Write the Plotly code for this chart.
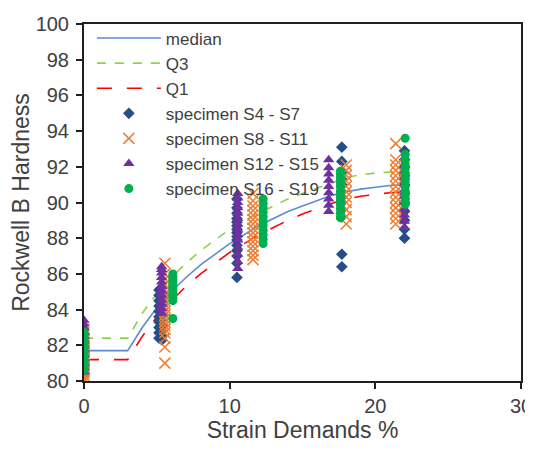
import plotly.graph_objects as go

# ---- quartile / median curves (strain %, HRB) ----
curve_x = [0, 3, 4, 5, 6, 7, 8, 9, 10, 11, 12, 13, 14, 15, 16, 17, 18, 19, 20, 21, 22]
median_y = [81.7, 81.7, 83.0, 84.1, 85.0, 85.8, 86.5, 87.1, 87.7, 88.2, 88.7, 89.1,
            89.5, 89.8, 90.1, 90.4, 90.6, 90.75, 90.85, 90.95, 91.0]
q3_y = [82.4, 82.4, 83.8, 84.9, 85.8, 86.6, 87.3, 87.9, 88.5, 89.0, 89.4, 89.8,
        90.2, 90.5, 90.8, 91.1, 91.4, 91.55, 91.65, 91.7, 91.75]
q1_y = [81.2, 81.2, 82.5, 83.6, 84.5, 85.3, 86.0, 86.6, 87.2, 87.7, 88.2, 88.6,
        89.0, 89.35, 89.65, 89.95, 90.2, 90.35, 90.45, 90.55, 90.6]

# ---- specimen readings: strain level and hardness readings per level ----
s4_strain = [0.0, 5.15, 5.35, 10.5, 17.7, 22.0]
s4_hrb = [
    [80.4, 80.6, 80.8, 81.0, 81.2, 81.4, 81.6, 81.8, 82.0, 82.2, 82.4, 82.6],
    [82.4, 82.7, 83.0, 83.3, 83.6, 83.9, 84.2, 84.5, 84.8, 85.1],
    [82.3, 82.5, 82.8, 83.1, 83.4, 83.7, 84.0, 84.3, 84.6, 84.9, 85.2],
    [85.8, 86.6, 87.0, 87.3, 87.6, 87.9, 88.1, 88.3, 88.5, 88.7, 88.9, 89.1,
     89.4, 89.7, 90.2],
    [86.4, 87.1, 89.2, 89.6, 90.0, 90.3, 90.6, 91.0, 91.3, 91.7, 92.3, 93.1],
    [88.0, 88.5, 89.0, 89.5, 90.0, 90.5, 91.0, 91.5, 92.0, 92.4, 92.9],
]

s8_strain = [0.0, 5.55, 11.6, 18.0, 21.4]
s8_hrb = [
    [80.0, 80.15, 80.3, 80.45, 80.6, 80.75, 80.9, 81.05, 81.2, 81.35, 81.5, 81.65,
     81.8, 81.95, 82.1, 82.25, 82.4, 82.55, 82.7, 82.9],
    [81.0, 81.9, 82.4, 82.7, 82.9, 83.1, 83.3, 83.5, 83.7, 83.9, 84.1, 84.3,
     84.5, 84.7, 84.9, 85.1, 85.4, 85.7, 86.0, 86.6],
    [86.8, 87.05, 87.3, 87.55, 87.8, 88.05, 88.3, 88.55, 88.8, 89.05, 89.3, 89.55,
     89.8, 90.1, 90.5],
    [88.8, 89.2, 89.6, 90.0, 90.3, 90.6, 90.9, 91.2, 91.5, 91.8, 92.1],
    [88.8, 89.1, 89.4, 89.7, 90.0, 90.3, 90.6, 90.9, 91.2, 91.5, 91.8, 92.1,
     92.4, 93.3],
]

s12_strain = [0.0, 5.33, 10.55, 16.8, 22.0]
s12_hrb = [
    [80.5, 80.75, 81.0, 81.25, 81.5, 81.75, 82.0, 82.25, 82.5, 82.75, 83.0, 83.2, 83.4],
    [83.8, 84.05, 84.3, 84.55, 84.8, 85.05, 85.3, 85.55, 85.8, 86.05, 86.25, 86.4],
    [86.3, 86.7, 87.1, 87.5, 87.9, 88.2, 88.5, 88.8, 89.1, 89.4, 89.7, 90.0, 90.25, 90.5],
    [89.5, 89.85, 90.2, 90.55, 90.9, 91.25, 91.6, 91.95, 92.4],
    [88.6, 88.95, 89.3, 89.65, 90.0, 90.35, 90.7, 91.05, 91.4, 91.75, 92.1],
]

s16_strain = [0.0, 6.1, 12.3, 17.6, 22.05]
s16_hrb = [
    [80.6, 80.75, 80.9, 81.05, 81.2, 81.35, 81.5, 81.65, 81.8, 81.95, 82.1, 82.25,
     82.4, 82.55, 82.75],
    [83.5, 84.5, 84.65, 84.8, 84.95, 85.1, 85.25, 85.4, 85.55, 85.7, 85.85, 86.0],
    [87.7, 87.95, 88.2, 88.45, 88.7, 88.95, 89.2, 89.45, 89.7, 89.95, 90.2],
    [89.15, 89.4, 89.65, 89.9, 90.15, 90.4, 90.65, 90.9, 91.15, 91.4, 91.6, 91.75],
    [89.9, 90.15, 90.4, 90.65, 90.9, 91.15, 91.4, 91.65, 91.9, 92.15, 92.4, 92.7, 93.6],
]

x_ticks = [0, 10, 20, 30]
y_ticks = [80, 82, 84, 86, 88, 90, 92, 94, 96, 98, 100]


def flatten(strains, readings):
    xs, ys = [], []
    for s, vals in zip(strains, readings):
        for v in vals:
            xs.append(s)
            ys.append(v)
    return xs, ys


FONT = "Liberation Sans, Arial, sans-serif"
TXT = "#404040"

fig = go.Figure()

fig.add_trace(go.Scatter(x=curve_x, y=median_y, mode="lines", name="median",
                         line=dict(color="#5B8BD0", width=1.6)))
fig.add_trace(go.Scatter(x=curve_x, y=q3_y, mode="lines", name="Q3",
                         line=dict(color="#92D050", width=1.6, dash="dash")))
fig.add_trace(go.Scatter(x=curve_x, y=q1_y, mode="lines", name="Q1",
                         line=dict(color="#FF0000", width=1.6, dash="longdash")))

x, y = flatten(s4_strain, s4_hrb)
fig.add_trace(go.Scatter(x=x, y=y, mode="markers", name="specimen S4 - S7",
                         marker=dict(symbol="diamond", size=9, color="#264E86")))
x, y = flatten(s8_strain, s8_hrb)
fig.add_trace(go.Scatter(x=x, y=y, mode="markers", name="specimen S8 - S11",
                         marker=dict(symbol="x-thin", size=11,
                                     line=dict(color="#ED7D31", width=1.5))))
x, y = flatten(s12_strain, s12_hrb)
fig.add_trace(go.Scatter(x=x, y=y, mode="markers", name="specimen S12 - S15",
                         marker=dict(symbol="triangle-up", size=10, color="#7030A0")))
x, y = flatten(s16_strain, s16_hrb)
fig.add_trace(go.Scatter(x=x, y=y, mode="markers", name="specimen S16 - S19",
                         marker=dict(symbol="circle", size=9, color="#00B050")))

# page body has an 8px default margin, so the figure is sized to fit the window
fig.update_layout(
    width=525, height=442,
    margin=dict(l=76, r=12, t=14, b=69),
    paper_bgcolor="white", plot_bgcolor="white",
    font=dict(family=FONT, color=TXT),
    showlegend=True,
    legend=dict(x=0.018, y=1.01, xanchor="left", yanchor="top",
                bgcolor="rgba(0,0,0,0)", font=dict(size=17, color=TXT),
                itemwidth=64, tracegroupgap=0),
    xaxis=dict(range=[0, 30], tickvals=x_ticks, ticks="outside", ticklen=6,
               tickcolor="#202020", tickwidth=1.5, automargin=False,
               showline=True, linecolor="#202020", linewidth=2, mirror=True,
               showgrid=False, zeroline=False,
               tickfont=dict(size=20, color=TXT),
               title=dict(text="Strain Demands %", font=dict(size=23, color=TXT), standoff=6)),
    yaxis=dict(range=[80, 100], tickvals=y_ticks, ticks="outside", ticklen=6,
               tickcolor="#202020", tickwidth=1.5, automargin=False, ticklabelstandoff=3,
               showline=True, linecolor="#202020", linewidth=2, mirror=True,
               showgrid=False, zeroline=False,
               tickfont=dict(size=20, color=TXT),
               title=dict(text="Rockwell B Hardness", font=dict(size=23, color=TXT), standoff=6)),
)

fig.write_html("out.html")
